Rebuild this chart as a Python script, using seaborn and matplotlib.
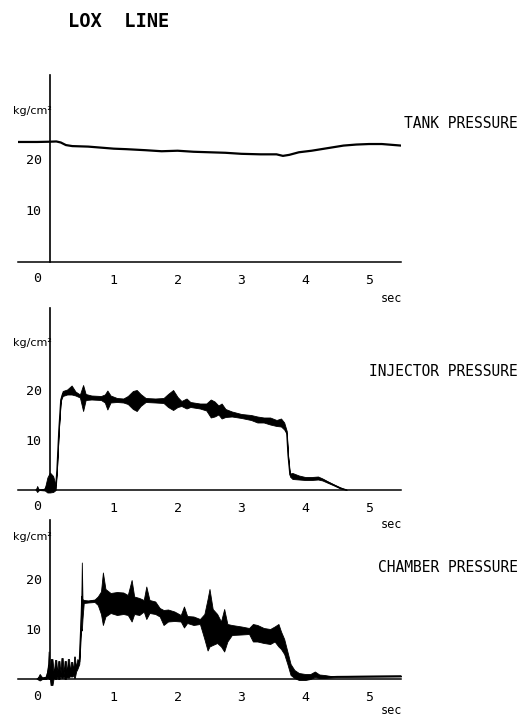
import matplotlib
matplotlib.use("Agg")
import matplotlib.pyplot as plt
import numpy as np
import pandas as pd
import seaborn as sns

# ---------------- data ----------------
title = "LOX  LINE"
panel_titles = ["TANK PRESSURE", "INJECTOR PRESSURE", "CHAMBER PRESSURE"]
x_ticks = [0, 1, 2, 3, 4, 5]
x_tick_labels = ["", "1", "2", "3", "4", "5"]
y_ticks = [10, 20, 30]
y_tick_labels = ["10", "20", ""]
unit_label = "kg/cm²"
time_label = "sec"

# Tank pressure (kg/cm2) vs time (sec)
tank_t = [-0.5, -0.2, 0.0, 0.1, 0.17, 0.25, 0.35, 0.6, 0.8, 1.0, 1.2, 1.5, 1.75, 2.0,
          2.25, 2.5, 2.75, 3.0, 3.3, 3.55, 3.65, 3.75, 3.9, 4.1, 4.35, 4.6, 4.8, 5.0,
          5.2, 5.4, 5.5]
tank_p = [23.3, 23.3, 23.35, 23.4, 23.2, 22.7, 22.5, 22.4, 22.2, 22.0, 21.9, 21.7, 21.5,
          21.6, 21.4, 21.3, 21.2, 21.0, 20.9, 20.9, 20.6, 20.8, 21.3, 21.6, 22.1, 22.6,
          22.8, 22.9, 22.9, 22.7, 22.6]

# Injector pressure: time, band centre, band half-width
inj_t = [-0.22, -0.2, -0.17, -0.08, -0.04, 0.0, 0.05, 0.09, 0.11, 0.14, 0.17, 0.2, 0.27,
         0.34, 0.4, 0.47, 0.52, 0.56, 0.65, 0.8, 0.86, 0.9, 0.95, 1.05, 1.15, 1.22, 1.3,
         1.36, 1.42, 1.5, 1.65, 1.78, 1.85, 1.93, 2.0, 2.06, 2.14, 2.2, 2.35, 2.45, 2.52,
         2.58, 2.64, 2.69, 2.75, 2.85, 3.0, 3.15, 3.25, 3.35, 3.45, 3.55, 3.62, 3.67,
         3.71, 3.73, 3.76, 3.8, 3.9, 4.0, 4.1, 4.2, 4.27, 4.35, 4.45, 4.55, 4.65]
inj_c = [0.0, 0.2, 0.0, 0.1, 1.0, 1.5, 1.2, 0.5, 4.0, 12.0, 18.0, 19.3, 19.6,
         20.0, 19.3, 18.8, 18.4, 18.6, 18.5, 18.4, 18.3, 18.0, 18.2, 18.0, 17.9, 18.0, 18.0,
         17.9, 18.0, 18.0, 17.9, 17.9, 17.9, 18.0, 17.6, 17.3, 17.3, 17.1, 16.8, 16.6, 16.3,
         16.2, 16.0, 15.8, 15.4, 15.2, 14.8, 14.5, 14.1, 14.0, 13.8, 13.4, 13.5, 12.8,
         11.5, 7.0, 3.0, 2.8, 2.5, 2.3, 2.3, 2.4, 2.1, 1.6, 1.0, 0.4, 0.0]
inj_w = [0.0, 0.6, 0.0, 0.2, 1.5, 2.0, 1.6, 0.5, 0.1, 0.1, 0.2, 0.5, 0.5,
         0.9, 0.4, 0.3, 2.6, 0.6, 0.4, 0.4, 0.8, 1.9, 0.7, 0.4, 0.4, 0.8, 1.8,
         2.1, 1.2, 0.4, 0.4, 0.5, 1.3, 2.0, 1.0, 0.5, 1.0, 0.5, 0.5, 0.7, 1.8,
         1.5, 0.9, 1.5, 0.8, 0.5, 0.4, 0.5, 0.6, 0.5, 0.7, 0.6, 0.8, 0.7,
         0.3, 0.1, 0.3, 0.6, 0.4, 0.3, 0.3, 0.3, 0.2, 0.15, 0.1, 0.1, 0.0]

# Chamber pressure: time, lower and upper envelope of the oscillating trace
ch_t = [-0.2, -0.16, -0.12, -0.06, -0.03, -0.02, 0.0, 0.01, 0.04, 0.06, 0.08, 0.10,
        0.115, 0.13, 0.15, 0.165, 0.18, 0.2, 0.215, 0.23, 0.25, 0.265, 0.28, 0.3, 0.315,
        0.33, 0.35, 0.365, 0.38, 0.39, 0.41, 0.43, 0.46,
        0.49, 0.5, 0.51, 0.53, 0.6, 0.7, 0.75,
        0.8, 0.83, 0.87, 0.95, 1.05, 1.15, 1.22, 1.28, 1.32, 1.4, 1.47, 1.51, 1.56, 1.65,
        1.72, 1.78, 1.85, 1.95, 2.05, 2.1, 2.15, 2.25, 2.35, 2.42, 2.47, 2.5, 2.55, 2.62,
        2.68, 2.73, 2.78, 2.85, 3.0, 3.12, 3.18, 3.25, 3.35, 3.45, 3.52, 3.58, 3.62, 3.67,
        3.72, 3.77, 3.83, 3.9, 4.0, 4.08, 4.15, 4.22, 4.3, 4.4, 4.5, 5.5]
ch_lo = [0.0, -0.3, 0.0, 0.0, 0.3, 0.0, 0.0, -1.2, -1.2, 0.3, 0.0, 0.0,
         0.5, 0.0, 0.0, 0.5, 0.2, 0.2, 0.5, 0.0, 0.0, 0.5, 0.3, 0.3, 0.6,
         0.5, 0.5, 0.8, 0.2, 0.2, 1.5, 2.0, 3.0,
         10.0, 9.7, 12.0, 15.2, 15.3, 15.4, 14.8,
         13.0, 10.8, 12.5, 13.2, 12.8, 13.0, 12.8, 11.5, 13.0, 12.8, 13.5, 12.0, 13.2, 13.0,
         12.5, 10.8, 11.5, 11.6, 11.5, 10.3, 11.2, 10.8, 11.0, 8.0, 5.7, 6.5, 6.8, 7.2,
         6.5, 5.5, 7.5, 8.8, 8.9, 9.0, 7.5, 7.5, 7.2, 7.0, 7.5, 6.5, 6.0, 5.0,
         3.0, 0.8, 0.2, -0.2, -0.2, 0.0, 0.4, 0.2, 0.2, 0.3, 0.4, 0.5]
ch_hi = [0.0, 1.0, 0.3, 0.5, 2.5, 5.5, 0.5, 4.0, 4.0, 1.0, 3.8, 3.8,
         1.0, 3.6, 3.6, 1.0, 4.2, 4.2, 1.0, 3.6, 3.6, 1.0, 4.0, 4.0, 1.2,
         3.4, 3.4, 1.5, 4.5, 4.5, 2.2, 4.0, 3.5,
         14.5, 23.3, 16.0, 15.8, 15.7, 15.9, 16.5,
         17.5, 21.3, 18.0, 17.2, 17.4, 17.3, 16.8, 19.8, 16.5, 16.2, 15.8, 18.5, 15.8, 15.5,
         14.2, 13.8, 13.9, 13.5, 12.8, 14.5, 12.6, 12.5, 12.0, 13.0, 16.0, 18.0, 14.0, 13.0,
         11.5, 14.0, 11.0, 10.8, 10.5, 10.2, 11.0, 10.8, 10.2, 10.0, 10.5, 11.0, 9.5, 8.0,
         5.5, 3.0, 1.8, 1.2, 1.0, 1.0, 1.5, 0.9, 0.8, 0.6, 0.6, 0.7]

# ---------------- style ----------------
sns.set_style("white")
plt.rcParams["font.family"] = ["DejaVu Sans Mono", "DejaVu Sans"]
plt.rcParams["axes.edgecolor"] = "black"
plt.rcParams["text.color"] = "black"
plt.rcParams["xtick.color"] = "black"
plt.rcParams["ytick.color"] = "black"

W, H = 529, 715
fig = plt.figure(figsize=(W / 100, H / 100), dpi=100)
fig.patch.set_facecolor("white")


def px_axes(left, right, y_top_px, y_zero_px, ymin, ymax):
    """Axes placed from pixel geometry; y_zero_px is where value 0 sits."""
    ppu = (y_zero_px - y_top_px) / ymax
    bottom_px = y_zero_px - ymin * ppu
    return fig.add_axes([left / W, (H - bottom_px) / H, (right - left) / W,
                         (bottom_px - y_top_px) / H])


def style(ax, ymin, ymax, pad):
    ax.set_xlim(-0.5, 5.5)
    ax.set_ylim(ymin, ymax)
    for s in ["top", "right"]:
        ax.spines[s].set_visible(False)
    ax.spines["left"].set_position(("data", 0))
    ax.spines["left"].set_bounds(0, ymax)
    ax.spines["bottom"].set_position(("data", 0))
    ax.spines["left"].set_linewidth(1.2)
    ax.spines["bottom"].set_linewidth(1.1)
    ax.set_xticks(x_ticks)
    ax.set_xticklabels(x_tick_labels)
    ax.set_yticks(y_ticks)
    ax.set_yticklabels(y_tick_labels)
    ax.tick_params(axis="both", direction="in", length=4, width=1, labelsize=9.5)
    ax.tick_params(axis="x", pad=pad)
    ax.tick_params(axis="y", pad=6)
    ax.set_xlabel("")
    ax.set_ylabel("")
    ax.set_facecolor("white")
    ax.annotate("0", xy=(0, 0), xycoords="data", xytext=(-13, -17),
                textcoords="offset pixels", ha="center", va="center", fontsize=9.5)
    ax.text(-0.28, 29.3 if ymax > 35 else 28.4, unit_label, ha="center", va="center",
            fontsize=8, family="DejaVu Sans")


# Panel 1: tank pressure
ax1 = px_axes(18, 401, 75, 262, 0, 36.3)
tank_df = pd.DataFrame({"t": tank_t, "p": tank_p})
sns.lineplot(data=tank_df, x="t", y="p", ax=ax1, color="black", lw=1.6)
style(ax1, 0, 36.3, 9)

# Panel 2: injector pressure
ax2 = px_axes(18, 401, 308, 490, -1.0, 36.4)
inj_df = pd.DataFrame({"t": inj_t, "c": inj_c, "w": inj_w})
ax2.fill_between(inj_df["t"], inj_df["c"] - inj_df["w"], inj_df["c"] + inj_df["w"],
                 color="black", lw=0.6, edgecolor="black")
sns.lineplot(data=inj_df, x="t", y="c", ax=ax2, color="black", lw=0.9)
style(ax2, -1.0, 36.4, 8.5)

# Panel 3: chamber pressure
ax3 = px_axes(18, 401, 520, 679, -1.6, 31.8)
ch_df = pd.DataFrame({"t": ch_t, "lo": ch_lo, "hi": ch_hi})
ch_df["mid"] = (ch_df["lo"] + ch_df["hi"]) / 2
ax3.fill_between(ch_df["t"], ch_df["lo"], ch_df["hi"], color="black", lw=0.6,
                 edgecolor="black")
sns.lineplot(data=ch_df, x="t", y="mid", ax=ax3, color="black", lw=0.9)
style(ax3, -1.6, 31.8, 8.5)

# Texts
fig.text(68 / W, 1 - 21.5 / H, title, ha="left", va="center", fontsize=13.5,
         fontweight="bold")
for name, ypx in zip(panel_titles, [123, 372, 567]):
    fig.text(518 / W, 1 - ypx / H, name, ha="right", va="center", fontsize=10.5)
for ypx in [298, 524, 710]:
    fig.text(391 / W, 1 - ypx / H, time_label, ha="center", va="center", fontsize=8.5)

fig.savefig("out.png", dpi=100, facecolor="white")
